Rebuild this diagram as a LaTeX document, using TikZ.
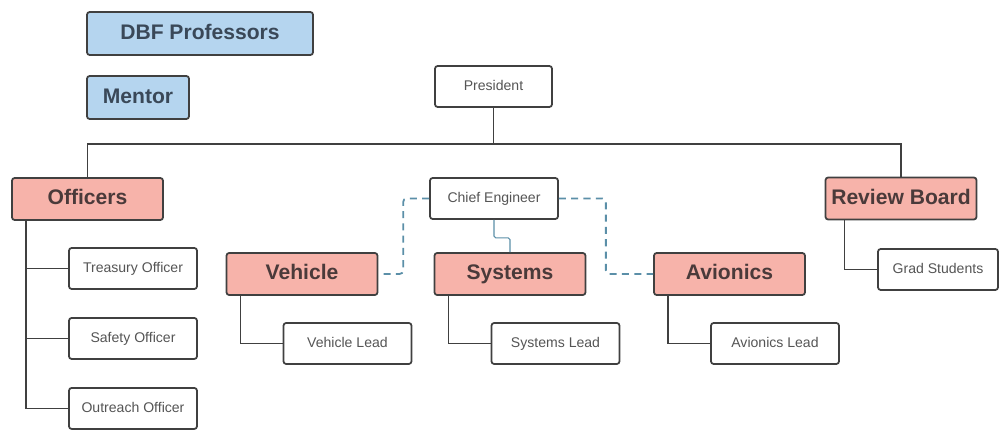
\documentclass[tikz,border=0pt]{standalone}
\usepackage{fontspec}
\setmainfont{Liberation Sans}
\usetikzlibrary{trees}

\definecolor{headpink}{HTML}{F7B3AA}
\definecolor{facultyblue}{HTML}{B5D5EF}
\definecolor{boxline}{HTML}{404040}
\definecolor{linkteal}{HTML}{5B8FA8}

\begin{document}
\begin{tikzpicture}[x=0.02cm, y=-0.02cm,
  box/.style={draw=boxline, line width=1pt, rounded corners=1.5pt, inner sep=0pt, align=center},
  faculty/.style={box, fill=facultyblue, minimum height=0.86cm, text={rgb,255:red,58;green,72;blue,88},
    text height=9pt, text depth=2.5pt, font=\fontsize{12}{14}\selectfont\bfseries},
  head/.style={box, fill=headpink, minimum width=3.02cm, minimum height=0.84cm, text={rgb,255:red,74;green,58;blue,58},
    text height=9pt, text depth=2.5pt, font=\fontsize{12}{14}\selectfont\bfseries},
  member/.style={box, fill=white, minimum width=2.56cm, minimum height=0.82cm, text={rgb,255:red,85;green,85;blue,85},
    text height=6pt, text depth=1.7pt, font=\fontsize{8}{10}\selectfont},
  grow via three points={one child at (0.91cm,-1.39cm) and
  two children at (0.91cm,-1.39cm) and (0.91cm,-2.79cm)},
  edge from parent/.style={draw=boxline, line width=0.8pt},
  edge from parent path={([xshift=0.3cm]\tikzparentnode.south west) |- (\tikzchildnode.west)},
  link/.style={draw=linkteal, line width=1pt, dash pattern=on 4pt off 3pt, rounded corners=2pt}]
  \useasboundingbox (0,0) rectangle (1000,431);

  % faculty
  \node[faculty, minimum width=4.52cm] (profs) at (200,33.5) {DBF Professors};
  \node[faculty, minimum width=2.04cm] (mentor) at (138,97.5) {Mentor};

  % top
  \node[member, minimum width=2.34cm] (president) at (493.5,86.5) {President};
  \node[member] (chief) at (494,198.5) {Chief Engineer};

  % officers
  \node[head] (officers) at (87.5,199) {Officers}
    child { node[member] (treasury) {Treasury Officer}}
    child { node[member] (safety) {Safety Officer}}
    child { node[member] (outreach) {Outreach Officer}};

  % sub teams
  \node[head] (vehicle) at (302,274) {Vehicle}
    child { node[member] (vehiclelead) {Vehicle Lead}};
  \node[head] (systems) at (510,274) {Systems}
    child { node[member] (systemslead) {Systems Lead}};
  \node[head] (avionics) at (729.5,274) {Avionics}
    child { node[member] (avionicslead) {Avionics Lead}};

  % review board
  \node[head] (review) at (901,198.5) {Review Board}
    [grow via three points={one child at (0.74cm,-1.42cm) and
    two children at (0.74cm,-1.42cm) and (0.74cm,-2.82cm)},
    edge from parent path={([xshift=0.4cm]\tikzparentnode.south west) |- (\tikzchildnode.west)}]
    child { node[member, minimum width=2.4cm] (grad) {Grad Students}};

  \draw[boxline, line width=0.8pt] (president.south) -- ++(0,36) -| (officers.north);
  \draw[boxline, line width=0.8pt] (president.south) -- ++(0,36) -| (review.north);

  % chief engineer links
  \draw[link] (chief.west) -- ++(-26,0) |- (vehicle.east);
  \draw[link] (chief.east) -- ++(47,0) |- (avionics.west);
  \draw[draw=linkteal, line width=0.6pt, rounded corners=1pt] (chief.south) -- ++(0,18) -| (systems.north);

\end{tikzpicture}
\end{document}
